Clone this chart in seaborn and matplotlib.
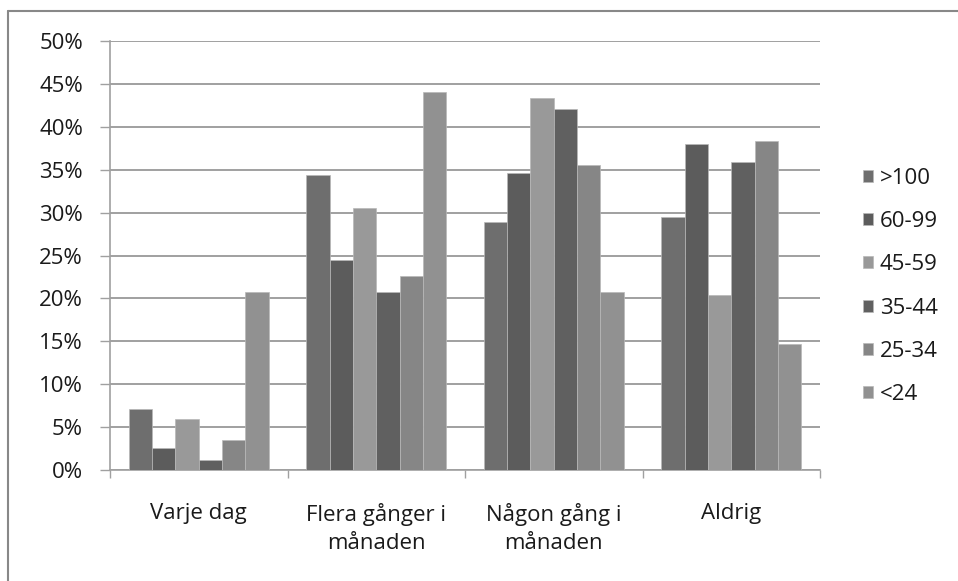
import matplotlib
matplotlib.use('Agg')
import matplotlib.pyplot as plt
import matplotlib.lines as mlines
import seaborn as sns
import pandas as pd

# categories and series
categories = ['Varje dag', 'Flera gånger i\nmånaden', 'Någon gång i\nmånaden', 'Aldrig']
ages = ['>100', '60-99', '45-59', '35-44', '25-34', '<24']
colors = ['#6e6e6e', '#5c5c5c', '#999999', '#606060', '#868686', '#919191']

v_100 = [7.1, 34.4, 28.9, 29.5]
v_60_99 = [2.6, 24.5, 34.6, 38.0]
v_45_59 = [5.9, 30.5, 43.3, 20.4]
v_35_44 = [1.2, 20.8, 42.1, 35.9]
v_25_34 = [3.5, 22.6, 35.6, 38.3]
v_24 = [20.8, 44.0, 20.7, 14.7]

series = [v_100, v_60_99, v_45_59, v_35_44, v_25_34, v_24]

rows = []
for age, vals in zip(ages, series):
    for c, v in zip(categories, vals):
        rows.append({'cat': c, 'age': age, 'val': v})
df = pd.DataFrame(rows)

sns.set_style('white')
plt.rcParams['font.family'] = ['Open Sans', 'DejaVu Sans']
fs = 16

fig = plt.figure(figsize=(9.58, 5.81), dpi=100)
ax = fig.add_axes([110 / 958, 111 / 581, 710 / 958, 429 / 581])

sns.barplot(data=df, x='cat', y='val', hue='age', order=categories, hue_order=ages,
            palette=colors, saturation=1, width=0.79, edgecolor='#b8b8b8', linewidth=0.5,
            errorbar=None, ax=ax, zorder=3)

ax.set_ylim(0, 50)
ax.set_xlim(-0.5, 3.5)
ax.set_yticks(range(0, 51, 5))
ax.set_yticklabels(['%d%%' % t for t in range(0, 51, 5)], fontsize=fs, color='#1a1a1a')
ax.yaxis.grid(True, color='#a0a0a0', linewidth=1.4, zorder=0)
ax.set_axisbelow(True)
ax.tick_params(axis='y', direction='out', length=7.5, width=1, color='#a0a0a0', pad=12, left=True)

ax.set_xticks(range(4))
ax.set_xticklabels(categories, fontsize=fs, color='#1a1a1a', linespacing=1.4)
ax.tick_params(axis='x', which='major', length=0, pad=24)
ax.set_xticks([-0.5, 0.5, 1.5, 2.5, 3.5], minor=True)
ax.tick_params(axis='x', which='minor', direction='out', length=6, width=1, color='#a0a0a0', bottom=True)

ax.set_xlabel('')
ax.set_ylabel('')
for side in ['top', 'right']:
    ax.spines[side].set_visible(False)
for side in ['left', 'bottom']:
    ax.spines[side].set_color('#a0a0a0')
    ax.spines[side].set_linewidth(1.2)

ax.legend_.remove()
handles, labels = ax.get_legend_handles_labels()
fig.legend(handles, labels, loc='center left', bbox_to_anchor=(843 / 958, 0.507),
           frameon=False, fontsize=fs, handlelength=0.45, handleheight=0.45,
           handletextpad=0.3, labelspacing=1.0, labelcolor='#1a1a1a')

# outer chart border
fig.add_artist(mlines.Line2D([8 / 958, 1], [1 - 11 / 581, 1 - 11 / 581], color='#888888', linewidth=1.5))
fig.add_artist(mlines.Line2D([8 / 958, 8 / 958], [0, 1 - 11 / 581], color='#888888', linewidth=1.5))

fig.savefig('out.png', dpi=100)
